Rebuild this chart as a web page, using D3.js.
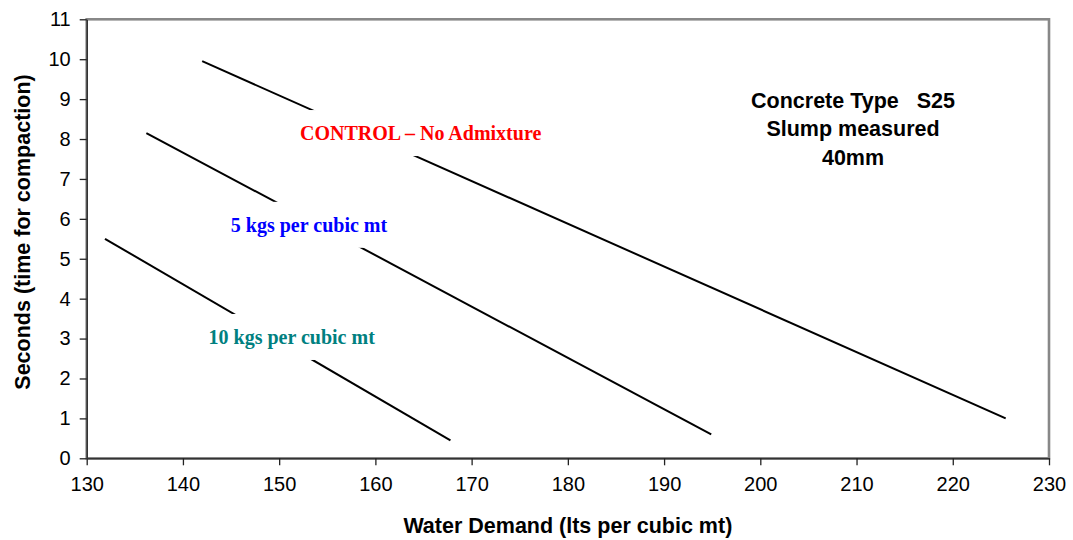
<!DOCTYPE html>
<html>
<head>
<meta charset="utf-8">
<script src="https://cdn.jsdelivr.net/npm/d3@7"></script>
<style>
  body { margin: 0; background: #fff; }
  svg { display: block; }
</style>
</head>
<body>
<svg width="1073" height="540"></svg>
<script>
// series: water demand (x) vs seconds (y), straight lines
const seriesNames = ["CONTROL – No Admixture", "5 kgs per cubic mt", "10 kgs per cubic mt"];
const controlX = [142, 225.5];
const controlY = [9.95, 1.0];
const kg5X = [136.2, 194.9];
const kg5Y = [8.15, 0.6];
const kg10X = [131.9, 167.8];
const kg10Y = [5.5, 0.45];
// label anchors in data units
const labelX = [164.7, 153.1, 151.3];
const labelY = [8.15, 5.85, 3.04];
const labelColors = ["#ff0000", "#0000ff", "#008080"];

const xTicks = [130, 140, 150, 160, 170, 180, 190, 200, 210, 220, 230];
const yTicks = [0, 1, 2, 3, 4, 5, 6, 7, 8, 9, 10, 11];
const noteLines = ["Concrete Type   S25", "Slump measured", "40mm"];

var svg = d3.select('svg');
var svgWidth = +svg.attr('width');
var svgHeight = +svg.attr('height');
var padding = { t: 19.3, r: svgWidth - 1049, b: svgHeight - 458.3, l: 86.7 };
var chartWidth = svgWidth - padding.l - padding.r;
var chartHeight = svgHeight - padding.t - padding.b;

var xScale = d3.scaleLinear().domain([130, 230]).range([0, chartWidth]);
var yScale = d3.scaleLinear().domain([0, 11]).range([chartHeight, 0]);

var chartG = svg.append('g')
  .attr('transform', `translate(${padding.l}, ${padding.t})`);

// plot area border
chartG.append('rect')
  .attr('width', chartWidth)
  .attr('height', chartHeight)
  .attr('fill', 'none')
  .attr('stroke', '#888')
  .attr('stroke-width', 2.6);

// axes
var xAxis = d3.axisBottom(xScale).tickValues(xTicks).tickSizeInner(7).tickSizeOuter(0).tickPadding(9);
var yAxis = d3.axisLeft(yScale).tickValues(yTicks).tickSizeInner(7).tickSizeOuter(0).tickPadding(9);

var xg = chartG.append('g')
  .attr('transform', `translate(0, ${chartHeight})`)
  .call(xAxis);
var yg = chartG.append('g').call(yAxis);

[xg, yg].forEach(g => {
  g.select('.domain').attr('stroke', '#333').attr('stroke-width', 1.6);
  g.selectAll('.tick line').attr('stroke', '#222').attr('stroke-width', 1.3);
  g.selectAll('.tick text')
    .attr('fill', '#000')
    .style('font-family', 'Liberation Sans, Arial, sans-serif')
    .style('font-size', '20px');
});
xg.selectAll('.tick text').attr('dy', '0.85em');

// lines
var lineData = [
  d3.zip(controlX, controlY),
  d3.zip(kg5X, kg5Y),
  d3.zip(kg10X, kg10Y)
];
var line = d3.line().x(d => xScale(d[0])).y(d => yScale(d[1]));

chartG.selectAll('.series')
  .data(lineData)
  .enter()
  .append('path')
  .attr('class', 'series')
  .attr('d', line)
  .attr('fill', 'none')
  .attr('stroke', '#000')
  .attr('stroke-width', 2);

// data labels with white boxes covering the lines
seriesNames.forEach((name, i) => {
  var g = chartG.append('g')
    .attr('transform', `translate(${xScale(labelX[i])}, ${yScale(labelY[i])})`);
  var box = g.append('rect').attr('fill', '#fff');
  var t = g.append('text')
    .text(name)
    .attr('text-anchor', 'middle')
    .attr('dy', '0.35em')
    .attr('fill', labelColors[i])
    .style('font-family', 'Liberation Serif, Times New Roman, serif')
    .style('font-weight', 'bold')
    .style('font-size', '20px');
  var w = t.node().getComputedTextLength() + 16;
  box.attr('x', -w / 2).attr('y', -23).attr('width', w).attr('height', 46);
});

// note
var note = svg.append('text')
  .attr('text-anchor', 'middle')
  .style('font-family', 'Liberation Sans, Arial, sans-serif')
  .style('font-weight', 'bold')
  .style('font-size', '21.5px')
  .attr('fill', '#000');
noteLines.forEach((s, i) => {
  note.append('tspan')
    .attr('x', 853)
    .attr('y', 107.5 + i * 28.5)
    .style('white-space', 'pre')
    .text(s);
});

// axis titles
svg.append('text')
  .text('Water Demand (lts per cubic mt)')
  .attr('x', padding.l + chartWidth / 2)
  .attr('y', 533)
  .attr('text-anchor', 'middle')
  .style('font-family', 'Liberation Sans, Arial, sans-serif')
  .style('font-weight', 'bold')
  .style('font-size', '21.5px');

svg.append('text')
  .text('Seconds (time for compaction)')
  .attr('transform', 'translate(30, 232) rotate(-90)')
  .attr('text-anchor', 'middle')
  .style('font-family', 'Liberation Sans, Arial, sans-serif')
  .style('font-weight', 'bold')
  .style('font-size', '21.5px');
</script>
</body>
</html>
